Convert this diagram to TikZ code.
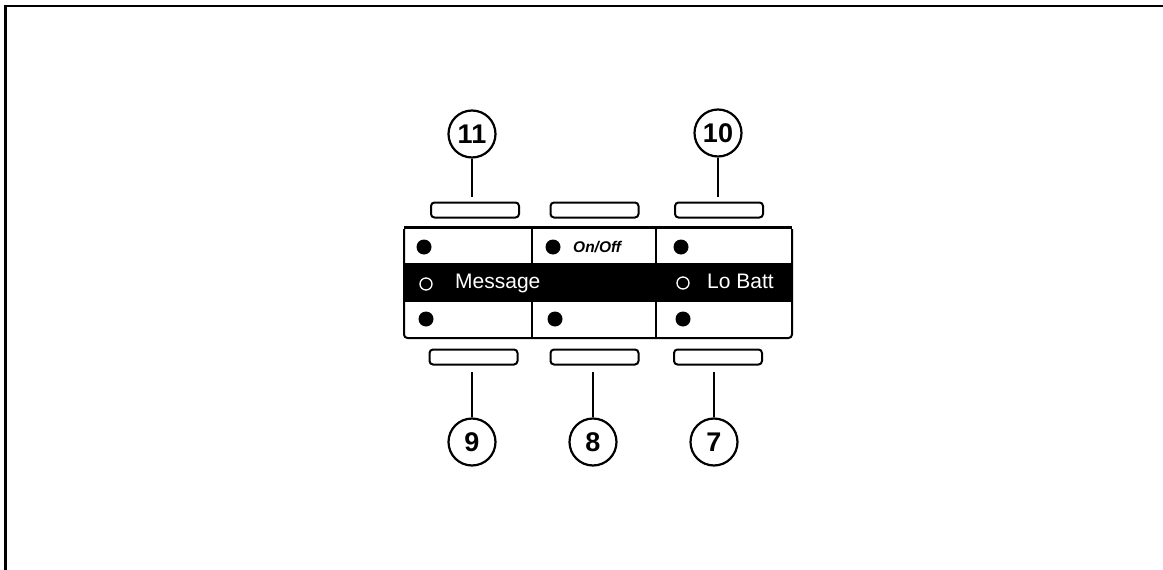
\documentclass[tikz,border=0pt]{standalone}
\usepackage{fontspec}
\setmainfont{Liberation Sans}
\tikzset{
  callout/.style={draw, circle, line width=2.2pt, minimum size=47pt, inner sep=0pt, font=\fontsize{27}{27}\selectfont\bfseries},
  softkey/.style={draw, rounded corners=3.5pt, line width=2pt, minimum width=88pt, minimum height=15pt, inner sep=0pt},
  led/.style={fill, circle, minimum size=15pt, inner sep=0pt},
  ledopen/.style={draw=white, circle, line width=1.3pt, minimum size=12pt, inner sep=0pt},
  bandtext/.style={text=white, anchor=base west, inner sep=0pt, font=\fontsize{21}{21}\selectfont},
  leader/.style={line width=2pt}
}
\begin{document}
\begin{tikzpicture}[x=1pt, y=-1pt]
		\useasboundingbox (0,0) rectangle (1163,570);
		% outer frame
		\draw[line width=2.8pt] (5.5,570) -- (5.5,6) -- (1163,6);
		% panel and black band
		\fill (403,263) rectangle (793,302);
		\draw[line width=3pt] (404,227) -- (792,227);
		\draw[line width=2pt, rounded corners=3.5pt] (404,229) -- (404,338) -- (792,338) -- (792,229);
		\foreach \x in {532,656}
		{
			\draw[line width=2pt] (\x,229) -- (\x,263);
			\draw[line width=2pt] (\x,302) -- (\x,338);
		}
		% indicators
		\foreach \x/\y/\name in {424/247/a,553/247/b,681/247/c,426/319/d,555/319/e,683/319/f}
		{
			\node[led] (led\name) at (\x,\y) {};
		}
		\node[ledopen] (ledmsg) at (426,284) {};
		\node[ledopen] (ledbatt) at (683,283) {};
		% texts of the panel
		\node[bandtext] (msgtext) at (455,288.5) {Message};
		\node[bandtext] (batttext) at (707,288.5) {Lo Batt};
		\node[anchor=west, inner sep=0pt, font=\fontsize{15.5}{15.5}\selectfont\bfseries\itshape] (onoff) at (573,247) {On/Off};
		% keys above and below the panel
		\foreach \x/\name in {475/a,594.5/b,719/c}
		{
			\node[softkey] (top\name) at (\x,210) {};
		}
		\foreach \x/\name in {473.5/a,594.5/b,718/c}
		{
			\node[softkey] (bot\name) at (\x,357) {};
		}
		% numbered callouts
		\node[callout] (n11) at (472,134) {11};
		\node[callout] (n10) at (718,133) {10};
		\node[callout] (n9) at (472,442) {9};
		\node[callout] (n8) at (593,442) {8};
		\node[callout] (n7) at (714,442) {7};
		% leaders
		\draw[leader, shorten >=5pt] (n11) -- (n11 |- topa.north);
		\draw[leader, shorten >=5pt] (n10) -- (n10 |- topc.north);
		\draw[leader, shorten >=6pt] (n9) -- (n9 |- bota.south);
		\draw[leader, shorten >=6pt] (n8) -- (n8 |- botb.south);
		\draw[leader, shorten >=6pt] (n7) -- (n7 |- botc.south);
	\end{tikzpicture}
\end{document}
